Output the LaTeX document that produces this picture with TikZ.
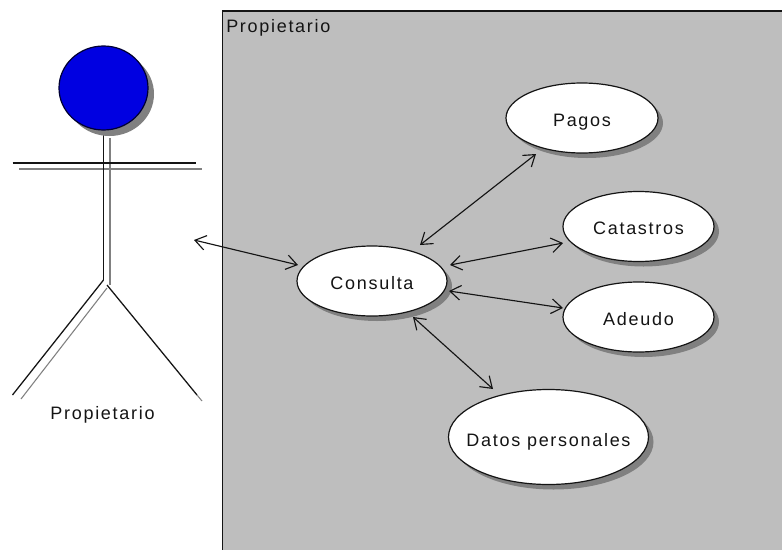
\documentclass[tikz,border=0pt]{standalone}
\usepackage{fontspec}
\setmainfont[LetterSpace=9.5]{Liberation Sans}
\usetikzlibrary{shapes.geometric,shadows,arrows.meta}
\definecolor{panelgray}{RGB}{190,190,190}
\definecolor{shadowgray}{RGB}{128,128,128}
\definecolor{lineblack}{RGB}{20,20,20}
\newcommand{\uctext}[2][-6pt]{\raisebox{#1}[0pt][0pt]{\makebox[0pt][c]{#2}}}
\tikzset{
  usecase/.style={ellipse,draw=lineblack,line width=.9pt,fill=white,inner sep=0pt,
    font=\fontsize{13.5pt}{16pt}\selectfont,text=lineblack,
    drop shadow={shadow xshift=3.75pt,shadow yshift=-3.75pt,fill=shadowgray,opacity=1}},
  conn/.style={draw=lineblack,line width=.85pt,{Straight Barb[length=8pt,width=11pt]}-{Straight Barb[length=8pt,width=11pt]}},
  stick/.style={draw=lineblack,line width=.95pt},
  stickshade/.style={draw=shadowgray,line width=.8pt},
  plainlabel/.style={font=\fontsize{13.5pt}{16pt}\selectfont,text=lineblack,inner sep=0pt}
}
\begin{document}
\begin{tikzpicture}[x=.75pt,y=-.75pt]
\useasboundingbox (0,0) rectangle (782,550);
\clip (0,0) rectangle (782,550);
\fill[white] (0,0) rectangle (782,550);
% panel
\fill[panelgray] (222.5,11) rectangle (782,550);
\draw[draw=lineblack,line width=1pt] (782,11) -- (222.5,11) -- (222.5,550);
\node[plainlabel,anchor=west] (paneltitle) at (226,28) {Propietario};
% actor shade lines
\draw[stickshade] (110,138) -- (110,285);
\draw[stickshade] (19,169) -- (202,169);
\draw[stickshade] (107,288) -- (21,399);
\draw[stickshade] (197,395) -- (202,401);
% actor black lines
\draw[stick] (103.5,133) -- (103.5,280);
\draw[stick] (12.5,163) -- (196,163);
\draw[stick] (103.5,280) -- (12.5,395);
\draw[stick] (107,285) -- (197,395);
\node[ellipse,draw=black!80!blue,line width=.9pt,fill={rgb,255:red,0;green,0;blue,225},inner sep=0pt,
  minimum width=66.75pt,minimum height=63pt,
  drop shadow={shadow xshift=4.5pt,shadow yshift=-4.5pt,fill=shadowgray,opacity=1}] (head) at (103.5,88) {};
\node[plainlabel] (actorname) at (102.5,415) {Propietario};
% use cases
\node[usecase,minimum width=112.5pt,minimum height=52.5pt] (cons) at (372,281) {\uctext{Consulta}};
\node[usecase,minimum width=114pt,minimum height=52.5pt] (pagos) at (582,118) {\uctext[-6.5pt]{Pagos}};
\node[usecase,minimum width=113.25pt,minimum height=52.5pt] (cat) at (638.5,226.5) {\uctext{Catastros}};
\node[usecase,minimum width=113.25pt,minimum height=52.5pt] (ade) at (638.5,317) {\uctext{Adeudo}};
\node[usecase,minimum width=150pt,minimum height=71.25pt] (datos) at (548.5,437) {\uctext[-7pt]{Datos personales}};
% connectors
\coordinate (actorend) at (194,240);
\draw[conn] (actorend) -- ([shift={(-74,-16)}]cons.center);
\draw[conn] ([shift={(48,-36)}]cons.center) -- ([shift={(-46,36)}]pagos.center);
\draw[conn] ([shift={(78,-16)}]cons.center) -- ([shift={(-75.5,16.5)}]cat.center);
\draw[conn] ([shift={(77,10)}]cons.center) -- ([shift={(-75.5,-9)}]ade.center);
\draw[conn] ([shift={(41,36)}]cons.center) -- ([shift={(-55.5,-48)}]datos.center);
\end{tikzpicture}
\end{document}
